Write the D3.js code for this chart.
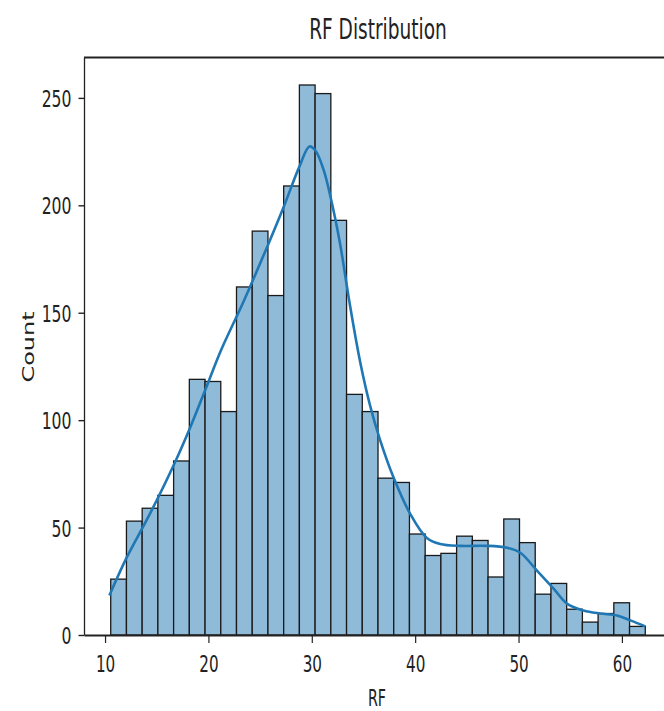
<!DOCTYPE html>
<html>
<head>
<meta charset="utf-8">
<script src="https://cdn.jsdelivr.net/npm/d3@7"></script>
<style>
  body { margin: 0; background: #fff; }
  text { font-family: "DejaVu Sans", sans-serif; fill: #222; }
</style>
</head>
<body>
<svg id="chart"></svg>
<script>
var width = 664,
    height = 711;

// histogram: 34 bins between the min and max RF
var rfMin = 10.55,
    rfMax = 62.26;
var counts = [26, 53, 59, 65, 81, 119, 118, 104, 162, 188, 158, 209, 256, 252, 193, 112, 104,
              73, 71, 47, 37, 38, 46, 44, 27, 54, 43, 19, 24, 12, 6, 10, 15, 4];

// kde line
var kdeX = [10.42, 12.10, 14.35, 16.68, 18.23, 19.77, 21.26, 23.38, 25.71, 27.26,
            28.80, 29.77, 30.35, 31.13, 31.90, 32.74, 33.64, 34.68, 35.65, 36.61, 37.90, 39.52,
            41.13, 42.42, 44.35, 46.94, 48.88, 50.17, 51.78, 53.39, 54.68, 56.29, 57.90, 59.52,
            60.81, 62.26];
var kdeY = [18.4, 36.1, 56.5, 79.5, 96.5, 115.0, 133.0, 155.0, 181.0, 199.0,
            218.0, 227.4, 225.5, 216.7, 202.0, 182.0, 155.0, 127.1, 106.6, 90.7, 73.4, 56.4,
            45.2, 42.4, 41.5, 41.5, 40.6, 38.3, 30.0, 21.6, 14.6, 11.4, 10.0, 9.1,
            6.8, 4.0];

var xTicks = [10, 20, 30, 40, 50, 60];
var yTicks = [0, 50, 100, 150, 200, 250];

var margin = {top: 57.5, left: 84, right: 672, bottom: 635};

var svg = d3.select("#chart")
    .attr("width", width)
    .attr("height", height);

var binW = (rfMax - rfMin) / counts.length;
var bins = counts.map(function(c, i) {
    return {x0: rfMin + i * binW, x1: rfMin + (i + 1) * binW, n: c};
});

var pad = (rfMax - rfMin) * 0.05;
var xScale = d3.scaleLinear()
    .domain([rfMin - pad, rfMax + pad])
    .range([margin.left, margin.right]);
var yScale = d3.scaleLinear()
    .domain([0, d3.max(counts) * 1.05])
    .range([margin.bottom, margin.top]);

// squeeze text sideways like the stretched original
function squeeze(sel, k) {
    sel.each(function() {
        var t = d3.select(this);
        t.attr("textLength", this.getComputedTextLength() * k)
         .attr("lengthAdjust", "spacingAndGlyphs");
    });
}

// bars
svg.append("g").selectAll("rect")
    .data(bins)
    .enter()
    .append("rect")
        .attr("x", function(d) { return xScale(d.x0); })
        .attr("y", function(d) { return yScale(d.n); })
        .attr("width", function(d) { return xScale(d.x1) - xScale(d.x0); })
        .attr("height", function(d) { return yScale(0) - yScale(d.n); })
        .style("fill", "#8fbbd9")
        .style("stroke", "#1a1a1a")
        .style("stroke-width", 1.3);

// kde
var line = d3.line()
    .x(function(d) { return xScale(d[0]); })
    .y(function(d) { return yScale(d[1]); })
    .curve(d3.curveCatmullRom.alpha(0.5));

svg.append("path")
    .datum(d3.zip(kdeX, kdeY))
    .attr("d", line)
    .style("fill", "none")
    .style("stroke", "#1f77b4")
    .style("stroke-width", 2.6);

// axes
var xAxis = svg.append("g")
    .attr("transform", "translate(0," + margin.bottom + ")")
    .call(d3.axisBottom(xScale).tickValues(xTicks).tickSize(8).tickPadding(3).tickSizeOuter(0));
var yAxis = svg.append("g")
    .attr("transform", "translate(" + margin.left + ",0)")
    .call(d3.axisLeft(yScale).tickValues(yTicks).tickSize(5.5).tickPadding(7).tickSizeOuter(0));

xAxis.select(".domain").style("stroke", "#222").style("stroke-width", 1.8);
yAxis.select(".domain").style("stroke", "#222").style("stroke-width", 1.3);
xAxis.selectAll(".tick line").style("stroke", "#222").style("stroke-width", 1.2);
yAxis.selectAll(".tick line").style("stroke", "#222").style("stroke-width", 1.4);

xAxis.selectAll(".tick text")
    .attr("dy", null)
    .attr("y", 37)
    .style("font-size", "23px")
    .style("font-family", "DejaVu Sans")
    .call(squeeze, 0.66);
yAxis.selectAll(".tick text")
    .attr("dy", "0.37em")
    .style("font-size", "23px")
    .style("font-family", "DejaVu Sans")
    .call(squeeze, 0.68);

// top spine
svg.append("line")
    .attr("x1", margin.left).attr("x2", margin.right)
    .attr("y1", margin.top).attr("y2", margin.top)
    .style("stroke", "#222")
    .style("stroke-width", 1.8);

// title and labels
svg.append("text")
    .attr("x", 378)
    .attr("y", 38.5)
    .style("text-anchor", "middle")
    .style("font-size", "29px")
    .text("RF Distribution")
    .call(squeeze, 0.64);

svg.append("text")
    .attr("x", 377)
    .attr("y", 705.5)
    .style("text-anchor", "middle")
    .style("font-size", "23px")
    .text("RF")
    .call(squeeze, 0.62);

svg.append("text")
    .attr("transform", "translate(33.5,347) rotate(-90)")
    .style("text-anchor", "middle")
    .style("font-size", "16px")
    .text("Count")
    .call(squeeze, 1.5);
</script>
</body>
</html>
